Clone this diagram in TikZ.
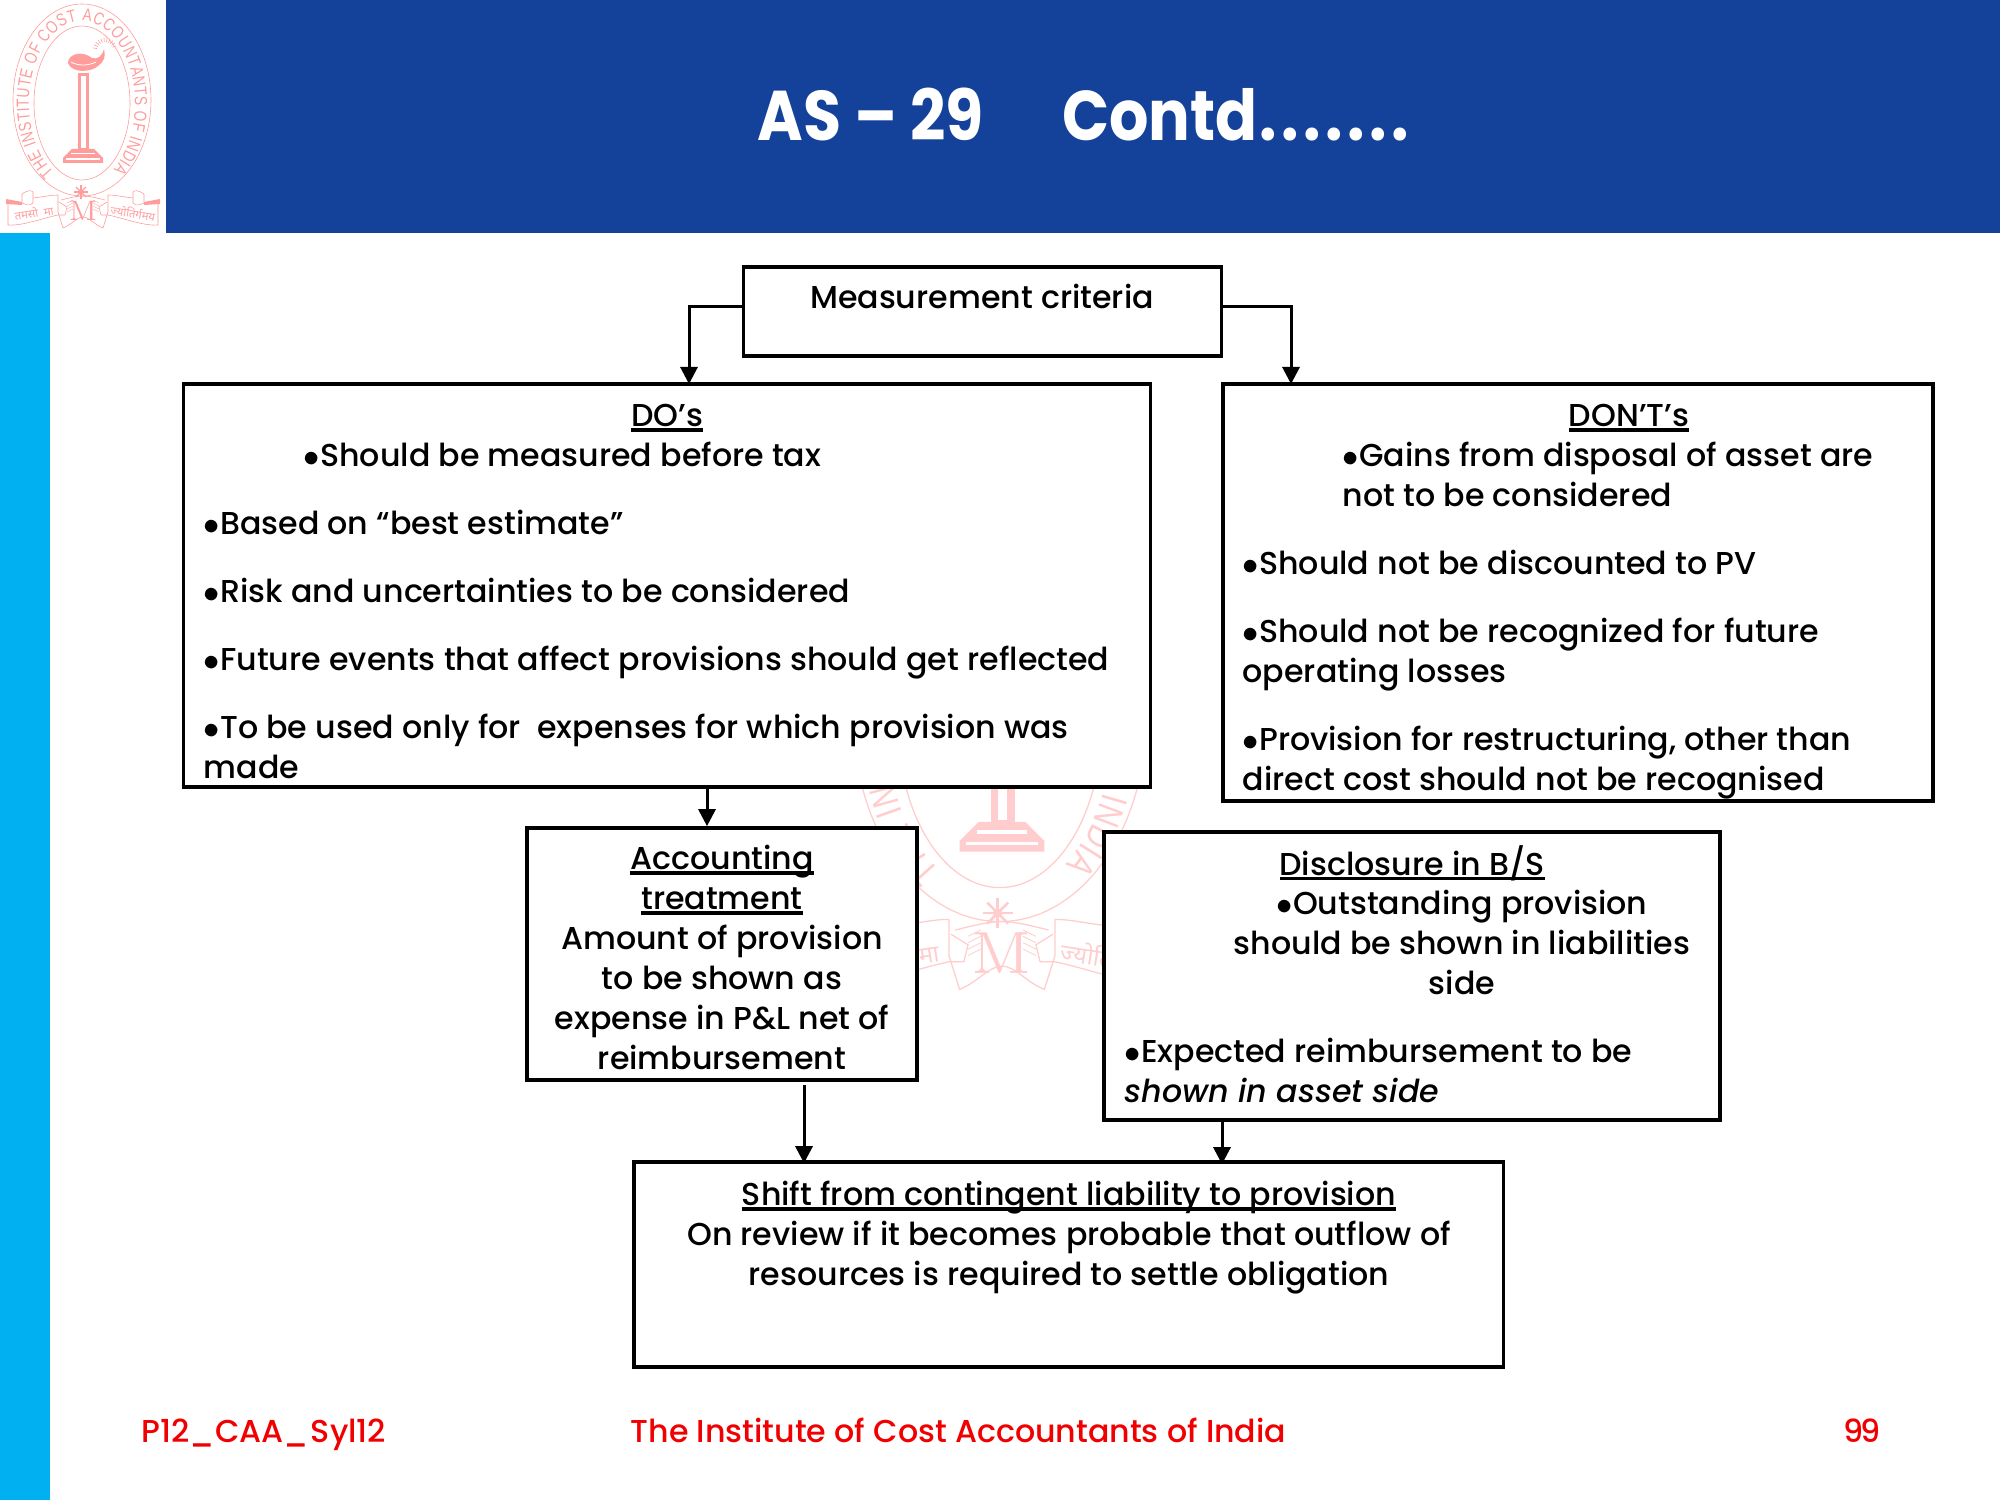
\documentclass[tikz,border=0pt]{standalone}
\usepackage{fontspec}
\setmainfont{Poppins Medium}[ItalicFont={Poppins Medium Italic}]
\newfontfamily\titlefam{Poppins}[FakeStretch=0.88,Ligatures=TeX]
\newfontfamily\hinfont[Script=Devanagari]{Noto Sans}
\newfontfamily\crestfam{Liberation Sans}[FakeStretch=0.78]
\usetikzlibrary{arrows.meta,positioning,decorations.text}
\definecolor{banner}{HTML}{14429A}
\definecolor{stripe}{HTML}{00B0F0}
\definecolor{logodark}{HTML}{FF9C9C}
\definecolor{logolight}{HTML}{FFCDCD}
\definecolor{footred}{HTML}{F00000}
\tikzset{
  blk/.style={draw, line width=.035cm, fill=white, inner sep=0pt},
  body/.style={inner sep=0pt, align=left, anchor=north west, font=\fontsize{9pt}{.4cm}\selectfont},
  mid/.style={inner sep=0pt, align=center, anchor=north, font=\fontsize{9pt}{.4cm}\selectfont},
  arw/.style={line width=.03cm, -{Triangle[length=.17cm,width=.17cm]}},
  foot/.style={inner sep=0pt, anchor=base west, text=footred, font=\fontsize{9pt}{.4cm}\selectfont}
}
\newcommand{\bul}{\makebox[.165cm][l]{$\bullet$}}
\newcommand{\ulin}[1]{\setbox0\hbox{#1}\rlap{\rule[-.05cm]{\wd0}{.035cm}}\box0}
\newcommand{\tdot}{\makebox[.22cm][c]{.}}
\newcommand{\crestfont}{\fontsize{5pt}{6pt}\selectfont\crestfam}
% crest{name}{colour}{shift}{scale}
\newcommand{\crest}[4]{%
\begin{scope}[transform canvas={shift={#3},scale=#4}, draw=#2, fill=#2, text=#2, line width=.006cm]
  \draw (82,100) ellipse [x radius=69, y radius=96];
  \fill[white] (82,103) ellipse [x radius=48, y radius=77];
  \draw (82,103) ellipse [x radius=48, y radius=77];
  \path[decorate, decoration={text along path, text align={fit to path},
    text={|\crestfont\color{#2}|THE INSTITUTE OF COST ACCOUNTANTS OF INDIA}}]
    (53.9,172.5) arc [start angle=122, end angle=414, x radius=53, y radius=82];
  % lamp
  \fill (78,73) rectangle (89,150);
  \fill[white] (81,76) rectangle (85.5,148);
  \fill (68,63) .. controls (68,54) and (82,50) .. (92,58) .. controls (98,60) and (102,56) .. (104,49)
    .. controls (106,56) and (104,62) .. (98,66) .. controls (92,72) and (72,74) .. (68,63);
  \draw[white, line width=.008cm] (71,62) .. controls (78,66) and (88,66) .. (96,62);
  \foreach \a in {190,205,...,350}
    \draw (105,50) ++(\a:8) -- ++(\a:4);
  \fill (72,149) -- (94,149) -- (103,158) -- (103,163) -- (63,163) -- (63,158) -- cycle;
  \fill[white] (71,153) rectangle (95,154.5);
  \fill[white] (66,158.5) rectangle (100,160);
  % star
  \fill (81,192) circle (2.2);
  \foreach \a in {0,45,...,315}
    \draw[line width=.012cm] (81,192) -- ++(\a:7);
  % ribbons
  \foreach \s in {1,-1} {
  \begin{scope}[shift={(83,0)}, xscale=\s]
    \fill (-77,199) -- (-61,202) -- (-61,205) -- (-77,204) -- cycle;
    \draw (-61,194) .. controls (-55,190) and (-52,190) .. (-50,192) -- (-50,203) .. controls (-54,207) and (-58,204) .. (-61,203) -- cycle;
    \draw (-50,198) .. controls (-40,197) and (-33,195) .. (-25,195);
    \draw (-75,204) -- (-75,225) .. controls (-60,226) and (-40,218) .. (-25,215);
    \draw (-25,195) -- (-25,212) -- (-20,228) .. controls (-12,225) and (-6,217) .. (0,217);
    \draw (-25,215) -- (-18,215) -- (-16,207) -- (-24,202);
    \draw (-22,200) .. controls (-14,198) and (-6,196) .. (0,196);
    \foreach \k in {0,1,2,3}
      \draw[line width=.004cm] (-16,203+\k*3) -- (-10,200+\k*3);
  \end{scope}
  }
  \node[inner sep=0pt, font=\fontsize{8.5pt}{9pt}\usefont{OT1}{cmr}{m}{n}] (#1m) at (83,211) {M};
  \node[inner sep=0pt, rotate=9, font=\fontsize{3.2pt}{4pt}\selectfont\hinfont] (#1l) at (34,213) {तमसो\ \ मा};
  \node[inner sep=0pt, rotate=-9, font=\fontsize{3.2pt}{4pt}\selectfont\hinfont] (#1r) at (133,213) {ज्योतिर्गमय};
\end{scope}}

\begin{document}
\begin{tikzpicture}[x=.01cm, y=-.01cm]
\useasboundingbox (0,0) rectangle (2000,1500);
\fill[banner] (166,0) rectangle (2000,233);
\fill[stripe] (0,233) rectangle (50,1500);
\crest{big}{logolight}{(826,506)}{2.12}
\crest{small}{logodark}{(0,0)}{1}

\node[inner sep=0pt, anchor=base west, text=white, font=\fontsize{20pt}{22pt}\selectfont\titlefam\bfseries] (title) at (757,140) {AS – 29\hspace{.78cm}Contd\tdot\tdot\tdot\tdot\tdot\tdot\tdot};

% boxes
\node[blk, minimum width=4.78cm, minimum height=.89cm] (meas) at (982.5,311.5) {};
\node[blk, minimum width=9.66cm, minimum height=4.03cm] (dos) at (667,585.5) {};
\node[blk, minimum width=7.1cm, minimum height=4.17cm] (donts) at (1578,592.5) {};
\node[blk, minimum width=3.9cm, minimum height=2.52cm] (acct) at (722,954) {};
\node[blk, minimum width=6.16cm, minimum height=2.88cm] (discl) at (1412,976) {};
\node[blk, minimum width=8.69cm, minimum height=2.05cm] (shift) at (1068.5,1264.5) {};

% texts
\node[mid] (meastxt) at (982,283.5) {Measurement criteria};

\node[mid] (dostop) at (667,404) {\ulin{DO’s}};
\node[body] (dostxt) at (203,441) {\hspace*{1cm}\bul Should be measured before tax\\[.28cm]
\bul Based on “best estimate”\\[.28cm]
\bul Risk and uncertainties to be considered\\[.28cm]
\bul Future events that affect provisions should get reflected\\[.28cm]
\bul To be used only for\ \ expenses for which provision was\\
made};

\node[mid] (dontstop) at (1629,404) {\ulin{DON’T’s}};
\node[body] (dontstxt) at (1242,441) {\hspace*{1cm}\bul Gains from disposal of asset are\\
\hspace*{1cm}not to be considered\\[.28cm]
\bul Should not be discounted to PV\\[.28cm]
\bul Should not be recognized for future\\
operating losses\\[.28cm]
\bul Provision for restructuring, other than\\
direct cost should not be recognised};

\node[mid] (accttxt) at (722,844.5) {\ulin{Accounting}\\ \ulin{treatment}\\ Amount of provision\\ to be shown as\\ expense in P\&L net of\\ reimbursement};

\node[mid] (discltop) at (1412,844.5) {\ulin{Disclosure in B/S}};
\node[mid] (disclmid) at (1462,889.5) {\bul Outstanding provision\\ should be shown in liabilities\\ side};
\node[body] (discltxt) at (1124,1037.5) {\bul Expected reimbursement to be\\ \textit{shown in asset side}};

\node[mid] (shifttxt) at (1069,1180.5) {\ulin{Shift from contingent liability to provision}\\ On review if it becomes probable that outflow of\\ resources is required to settle obligation};

% footer
\node[foot] (footl) at (141,1442) {P12\_CAA\_\kern.02cm Syl12};
\node[foot] (footm) at (630,1442) {The Institute of Cost Accountants of India};
\node[foot] (footr) at (1843,1442) {9\kern-.03cm 9};

% arrows
\coordinate (dosin) at (689,384);
\coordinate (dontin) at (1291,384);
\coordinate (acctout) at (804,1085);
\coordinate (dosout) at (707,787);
\coordinate (disclout) at (1222,1120);
\draw[arw] ([yshift=.045cm]meas.west) -| (dosin);
\draw[arw] ([yshift=.045cm]meas.east) -| (dontin);
\draw[arw] (dosout) -- (dosout |- acct.north);
\draw[arw, shorten >=-.03cm] (acctout) -- (acctout |- shift.north);
\draw[arw, shorten >=-.04cm] (disclout) -- (disclout |- shift.north);
\end{tikzpicture}
\end{document}
